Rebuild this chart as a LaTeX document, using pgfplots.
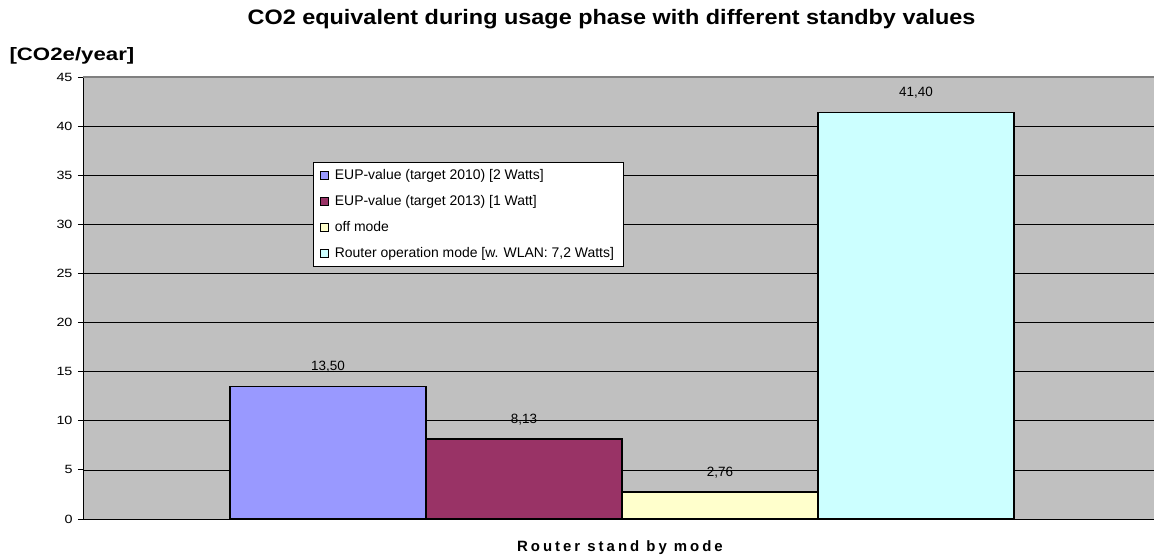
\documentclass[border=0pt]{standalone}
\usepackage{pgfplots}
\pgfplotsset{compat=1.18}
\usepackage{fontspec}
\setmainfont{Liberation Sans}
\definecolor{cBlue}{HTML}{9999FF}
\definecolor{cMaroon}{HTML}{993366}
\definecolor{cYellow}{HTML}{FFFFCC}
\definecolor{cCyan}{HTML}{CCFFFF}
\definecolor{cBack}{HTML}{C0C0C0}
\begin{document}
\begin{tikzpicture}
\path[use as bounding box] (-83bp,-40bp) rectangle (1071bp,519bp);
\begin{axis}[
  at={(0,0)}, anchor=south west,
  scale only axis,
  width=1071bp, height=442bp,
  xmin=-0.25, xmax=5.214,
  ymin=0, ymax=45,
  ytick={0,5,...,45},
  xtick=\empty,
  ybar, bar width=1,
  axis background/.style={fill=cBack},
  axis x line*=bottom, axis y line*=left,
  axis line style={black, line width=0.9bp},
  ymajorgrids, grid style={black, line width=0.6bp},
  tick style={black, line width=0.8bp},
  major tick length=5bp,
  tick align=outside,
  tick label style={font=\fontsize{12}{14}\selectfont},
  yticklabel={\scalebox{1.2}[1]{\pgfmathprintnumber{\tick}}},
  yticklabel style={xshift=-2bp},
  /pgf/number format/assume math mode=true,
  nodes near coords,
  nodes near coords style={font=\fontsize{13.5}{15}\selectfont, black, yshift=10bp,
    /pgf/number format/.cd, use comma, fixed, fixed zerofill, precision=2},
  legend style={at={(0.2148,0.8077)}, anchor=north west, draw=black, fill=white,
    font=\fontsize{14}{16}\selectfont, row sep=10.5bp, inner xsep=7bp, inner ysep=5bp, line width=0.8bp},
  legend cell align=left,
  legend image code/.code={\draw[#1, draw=black, line width=0.9bp] (0bp,-4bp) rectangle (8bp,4bp);
    \path[draw=none, fill=none] (0bp,0bp) rectangle (12bp,0.1bp);},
  clip=false,
]
\addplot[fill=cBlue, draw=black, line width=1.4bp, bar shift=0pt] coordinates {(1,13.50)};
\addlegendentry{EUP-value (target 2010) [2 Watts]}
\addplot[fill=cMaroon, draw=black, line width=1.4bp, bar shift=0pt] coordinates {(2,8.13)};
\addlegendentry{EUP-value (target 2013) [1 Watt]}
\addplot[fill=cYellow, draw=black, line width=1.4bp, bar shift=0pt] coordinates {(3,2.76)};
\addlegendentry{off mode}
\addplot[fill=cCyan, draw=black, line width=1.4bp, bar shift=0pt] coordinates {(4,41.40)};
\addlegendentry{Router operation mode [w. WLAN: 7,2 Watts]}
\draw[gray, line width=1.2bp] (rel axis cs:0,1) -- (rel axis cs:1,1);
\node[font=\bfseries\fontsize{21}{24}\selectfont] at ([yshift=58bp]rel axis cs:0.4935,1) {\scalebox{1.12}[1]{CO2 equivalent during usage phase with different standby values}};
\node[anchor=west, font=\bfseries\fontsize{18}{21}\selectfont] at ([xshift=-77bp,yshift=21bp]rel axis cs:0,1) {\scalebox{1.24}[1]{[CO2e/year]}};
\node[font=\bfseries\fontsize{15}{17}\selectfont\addfontfeature{LetterSpace=20}] at ([yshift=-29bp]rel axis cs:0.5014,0) {Router stand by mode};
\end{axis}
\end{tikzpicture}
\end{document}
